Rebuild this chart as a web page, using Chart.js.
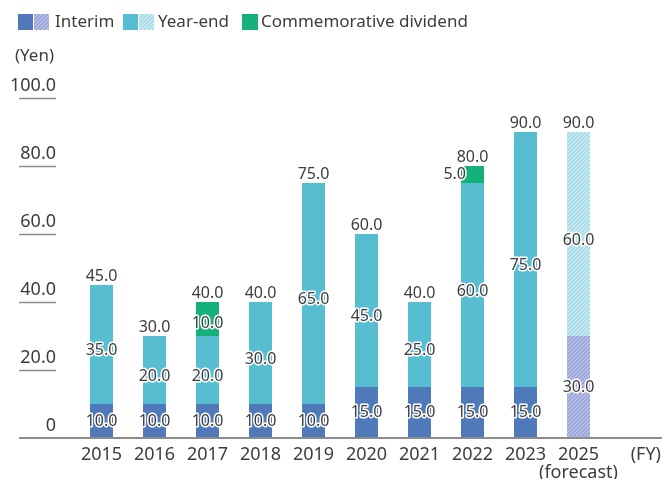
<!DOCTYPE html>
<html>
<head>
<meta charset="utf-8">
<script src="https://cdn.jsdelivr.net/npm/chart.js@4/dist/chart.umd.min.js"></script>
<style>
  html, body { margin: 0; padding: 0; background: #fff; }
  #wrap { width: 662px; height: 479px; position: relative; }
</style>
</head>
<body>
<div id="wrap"><canvas id="c" width="662" height="479"></canvas></div>
<script>
// ---- Data ----
const categories = ['2015','2016','2017','2018','2019','2020','2021','2022','2023',['2025','(forecast)']];
const interim = [10,10,10,10,10,15,15,15,15,30];
const yearEnd = [35,20,20,30,65,45,25,60,75,60];
const commemorative = [null,null,10,null,null,null,null,5,null,null];
const totals = [45,30,40,40,75,60,40,80,90,90];
const isForecast = [false,false,false,false,false,false,false,false,false,true];
const yTickValues = [0,20,40,60,80,100];
const seriesNames = ['Interim','Year-end','Commemorative dividend'];
const unitLabel = '(Yen)';
const fyLabel = '(FY)';

// ---- Styles ----
const FONT = '"Noto Sans", "DejaVu Sans", sans-serif';
const TEXT = '#3d3d3d';
const LINE = '#8c8c8c';
const C_INT = '#4f79b9';
const C_YE = '#57bed1';
const C_COM = '#14b27a';

function makePattern(base, stripe) {
  const t = document.createElement('canvas');
  t.width = 4; t.height = 4;
  const g = t.getContext('2d');
  g.fillStyle = base; g.fillRect(0, 0, 4, 4);
  g.strokeStyle = stripe; g.lineWidth = 1.1;
  g.beginPath();
  g.moveTo(-1, 5); g.lineTo(5, -1);
  g.moveTo(-1, 1); g.lineTo(1, -1);
  g.moveTo(3, 5); g.lineTo(5, 3);
  g.stroke();
  return document.getElementById('c').getContext('2d').createPattern(t, 'repeat');
}
const P_INT = makePattern('#98a3d8', '#c3c9ec');
const P_YE = makePattern('#a6dce8', '#d2eef4');

const decor = {
  id: 'decor',
  afterDatasetsDraw(chart) {
    const ctx = chart.ctx;
    const xs = chart.scales.x, ys = chart.scales.y;
    const y0 = ys.getPixelForValue(0);
    ctx.save();
    // baseline
    ctx.strokeStyle = LINE; ctx.lineWidth = 2;
    ctx.beginPath(); ctx.moveTo(19, y0); ctx.lineTo(662, y0); ctx.stroke();
    // short tick lines under y labels
    yTickValues.forEach(v => {
      if (v === 0) return;
      const py = Math.round(ys.getPixelForValue(v)) + 0.5;
      ctx.lineWidth = 1.5;
      ctx.beginPath(); ctx.moveTo(19, py); ctx.lineTo(56, py); ctx.stroke();
    });
    // value labels
    ctx.font = '16px ' + FONT;
    ctx.textBaseline = 'middle';
    ctx.lineJoin = 'round';
    const offsets = [0, 6, 4];
    function haloText(txt, x, y, align) {
      ctx.textAlign = align;
      ctx.strokeStyle = '#fff'; ctx.lineWidth = 3;
      ctx.strokeText(txt, x, y);
      ctx.fillStyle = TEXT;
      ctx.fillText(txt, x, y);
    }
    chart.data.datasets.forEach((ds, di) => {
      const meta = chart.getDatasetMeta(di);
      meta.data.forEach((el, j) => {
        const v = ds.data[j];
        if (v == null || v === 0) return;
        const p = el.getProps(['x', 'y', 'base', 'width'], true);
        const cy = (p.y + p.base) / 2;
        if (Math.abs(p.base - p.y) < 22) {
          haloText(v.toFixed(1), p.x - p.width / 2 + 5, cy, 'right');
        } else {
          haloText(v.toFixed(1), p.x, cy + offsets[di], 'center');
        }
      });
    });
    // totals
    totals.forEach((t, j) => {
      const x = xs.getPixelForValue(j);
      const y = ys.getPixelForValue(t) - 9;
      ctx.textAlign = 'center';
      ctx.fillStyle = TEXT;
      ctx.fillText(t.toFixed(1), x, y);
    });
    // (Yen) and (FY)
    ctx.font = '17px ' + FONT;
    ctx.textAlign = 'left';
    ctx.fillText(unitLabel, 15, 56);
    ctx.font = '18px ' + FONT;
    ctx.textAlign = 'right';
    ctx.fillText(fyLabel, 661, 455);
    // legend
    ctx.font = '17px ' + FONT;
    ctx.textAlign = 'left';
    const ly = 14, lh = 16;
    ctx.fillStyle = C_INT; ctx.fillRect(18, ly, 15, lh);
    ctx.fillStyle = P_INT; ctx.fillRect(34, ly, 15, lh);
    ctx.fillStyle = TEXT; ctx.fillText(seriesNames[0], 55, 22);
    ctx.fillStyle = C_YE; ctx.fillRect(123, ly, 15, lh);
    ctx.fillStyle = P_YE; ctx.fillRect(139, ly, 15, lh);
    ctx.fillStyle = TEXT; ctx.fillText(seriesNames[1], 158, 22);
    ctx.fillStyle = C_COM; ctx.fillRect(242, ly, 16, lh);
    ctx.fillStyle = TEXT; ctx.fillText(seriesNames[2], 261, 22);
    ctx.restore();
  }
};

new Chart(document.getElementById('c'), {
  type: 'bar',
  data: {
    labels: categories,
    datasets: [
      { label: seriesNames[0], data: interim,
        backgroundColor: isForecast.map(f => f ? P_INT : C_INT) },
      { label: seriesNames[1], data: yearEnd,
        backgroundColor: isForecast.map(f => f ? P_YE : C_YE) },
      { label: seriesNames[2], data: commemorative, backgroundColor: C_COM }
    ]
  },
  options: {
    responsive: false,
    devicePixelRatio: 1,
    animation: false,
    layout: { padding: { top: 98, right: 57, left: 0, bottom: 0 } },
    datasets: { bar: { barPercentage: 1, categoryPercentage: 23 / 53, borderWidth: 0 } },
    plugins: { legend: { display: false }, tooltip: { enabled: false } },
    scales: {
      x: {
        stacked: true,
        grid: { display: false, drawTicks: false },
        border: { display: false },
        ticks: { font: { family: FONT, size: 18, lineHeight: 1 }, color: TEXT,
                 padding: 8, maxRotation: 0, autoSkip: false },
        afterFit(s) { s.height = 41; }
      },
      y: {
        stacked: true, min: 0, max: 100,
        grid: { display: false, drawTicks: false },
        border: { display: false },
        afterBuildTicks(s) { s.ticks = yTickValues.map(v => ({ value: v })); },
        ticks: { font: { family: FONT, size: 18 }, color: TEXT, padding: 19, labelOffset: -12,
                 callback: v => v === 0 ? '0' : Number(v).toFixed(1) },
        afterFit(s) { s.width = 75; }
      }
    }
  },
  plugins: [decor]
});
</script>
</body>
</html>
